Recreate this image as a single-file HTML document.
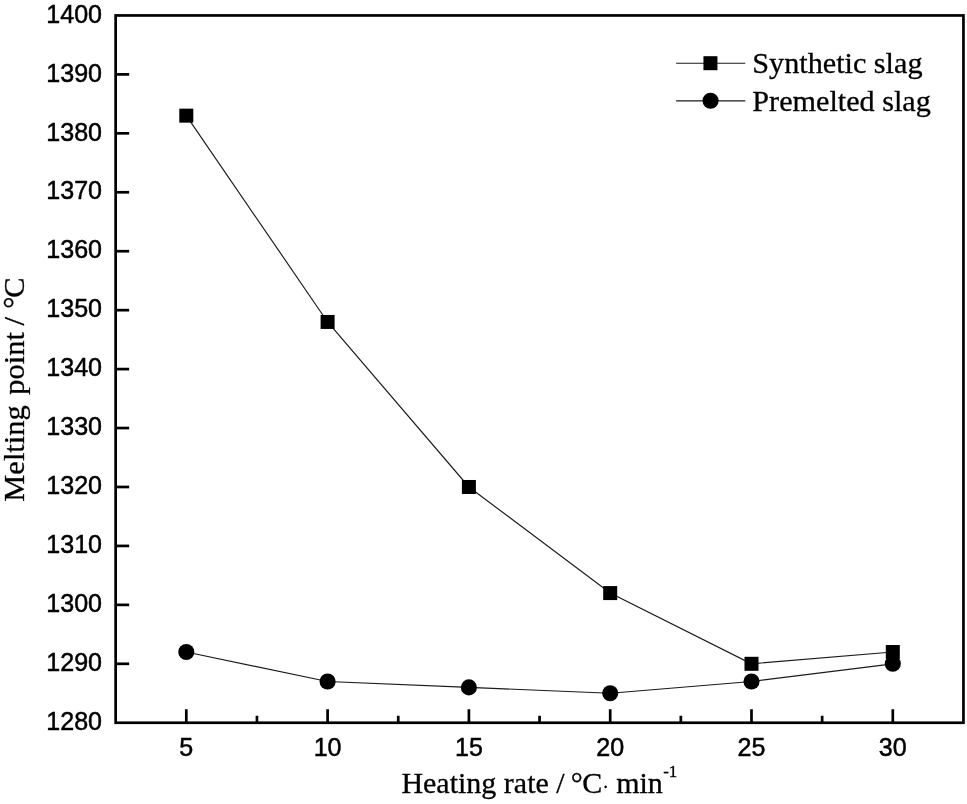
<!DOCTYPE html>
<html><head><meta charset="utf-8"><title>Melting point vs heating rate</title>
<style>
html,body{margin:0;padding:0;background:#fff;}
body{width:967px;height:804px;overflow:hidden;}
svg{display:block;}
.tk{font-family:"Liberation Sans",Arial,sans-serif;font-size:26.5px;fill:#000;stroke:#000;stroke-width:0.5px;}
.lb{font-family:"Liberation Serif","Times New Roman",serif;font-size:30px;fill:#000;stroke:#000;stroke-width:0.3px;}
</style></head><body>
<svg width="967" height="804" viewBox="0 0 967 804">
<rect x="0" y="0" width="967" height="804" fill="#fff"/>
<rect x="115.65" y="15.45" width="847.8000000000001" height="707.3" fill="none" stroke="#000" stroke-width="2.7"/>
<line x1="115.65" y1="663.81" x2="129.15" y2="663.81" stroke="#000" stroke-width="2.7"/>
<line x1="115.65" y1="604.87" x2="129.15" y2="604.87" stroke="#000" stroke-width="2.7"/>
<line x1="115.65" y1="545.92" x2="129.15" y2="545.92" stroke="#000" stroke-width="2.7"/>
<line x1="115.65" y1="486.98" x2="129.15" y2="486.98" stroke="#000" stroke-width="2.7"/>
<line x1="115.65" y1="428.04" x2="129.15" y2="428.04" stroke="#000" stroke-width="2.7"/>
<line x1="115.65" y1="369.10" x2="129.15" y2="369.10" stroke="#000" stroke-width="2.7"/>
<line x1="115.65" y1="310.16" x2="129.15" y2="310.16" stroke="#000" stroke-width="2.7"/>
<line x1="115.65" y1="251.22" x2="129.15" y2="251.22" stroke="#000" stroke-width="2.7"/>
<line x1="115.65" y1="192.27" x2="129.15" y2="192.27" stroke="#000" stroke-width="2.7"/>
<line x1="115.65" y1="133.33" x2="129.15" y2="133.33" stroke="#000" stroke-width="2.7"/>
<line x1="115.65" y1="74.39" x2="129.15" y2="74.39" stroke="#000" stroke-width="2.7"/>
<text transform="translate(102.05,729.95) scale(0.947,1)" text-anchor="end" class="tk">1280</text>
<text transform="translate(102.05,671.01) scale(0.947,1)" text-anchor="end" class="tk">1290</text>
<text transform="translate(102.05,612.07) scale(0.947,1)" text-anchor="end" class="tk">1300</text>
<text transform="translate(102.05,553.12) scale(0.947,1)" text-anchor="end" class="tk">1310</text>
<text transform="translate(102.05,494.18) scale(0.947,1)" text-anchor="end" class="tk">1320</text>
<text transform="translate(102.05,435.24) scale(0.947,1)" text-anchor="end" class="tk">1330</text>
<text transform="translate(102.05,376.30) scale(0.947,1)" text-anchor="end" class="tk">1340</text>
<text transform="translate(102.05,317.36) scale(0.947,1)" text-anchor="end" class="tk">1350</text>
<text transform="translate(102.05,258.42) scale(0.947,1)" text-anchor="end" class="tk">1360</text>
<text transform="translate(102.05,199.47) scale(0.947,1)" text-anchor="end" class="tk">1370</text>
<text transform="translate(102.05,140.53) scale(0.947,1)" text-anchor="end" class="tk">1380</text>
<text transform="translate(102.05,81.59) scale(0.947,1)" text-anchor="end" class="tk">1390</text>
<text transform="translate(102.05,22.65) scale(0.947,1)" text-anchor="end" class="tk">1400</text>
<line x1="186.30" y1="722.75" x2="186.30" y2="709.25" stroke="#000" stroke-width="2.7"/>
<text transform="translate(186.30,755.50) scale(0.947,1)" text-anchor="middle" class="tk">5</text>
<line x1="327.60" y1="722.75" x2="327.60" y2="709.25" stroke="#000" stroke-width="2.7"/>
<text transform="translate(327.60,755.50) scale(0.947,1)" text-anchor="middle" class="tk">10</text>
<line x1="468.90" y1="722.75" x2="468.90" y2="709.25" stroke="#000" stroke-width="2.7"/>
<text transform="translate(468.90,755.50) scale(0.947,1)" text-anchor="middle" class="tk">15</text>
<line x1="610.20" y1="722.75" x2="610.20" y2="709.25" stroke="#000" stroke-width="2.7"/>
<text transform="translate(610.20,755.50) scale(0.947,1)" text-anchor="middle" class="tk">20</text>
<line x1="751.50" y1="722.75" x2="751.50" y2="709.25" stroke="#000" stroke-width="2.7"/>
<text transform="translate(751.50,755.50) scale(0.947,1)" text-anchor="middle" class="tk">25</text>
<line x1="892.80" y1="722.75" x2="892.80" y2="709.25" stroke="#000" stroke-width="2.7"/>
<text transform="translate(892.80,755.50) scale(0.947,1)" text-anchor="middle" class="tk">30</text>
<line x1="256.95" y1="722.75" x2="256.95" y2="715.75" stroke="#000" stroke-width="2.7"/>
<line x1="398.25" y1="722.75" x2="398.25" y2="715.75" stroke="#000" stroke-width="2.7"/>
<line x1="539.55" y1="722.75" x2="539.55" y2="715.75" stroke="#000" stroke-width="2.7"/>
<line x1="680.85" y1="722.75" x2="680.85" y2="715.75" stroke="#000" stroke-width="2.7"/>
<line x1="822.15" y1="722.75" x2="822.15" y2="715.75" stroke="#000" stroke-width="2.7"/>
<polyline points="186.30,115.65 327.60,321.95 468.90,486.98 610.20,593.08 751.50,663.81 892.80,652.02" fill="none" stroke="#1a1a1a" stroke-width="1.15"/>
<polyline points="186.30,652.02 327.60,681.49 468.90,687.38 610.20,693.28 751.50,681.49 892.80,663.81" fill="none" stroke="#1a1a1a" stroke-width="1.15"/>
<rect x="179.30" y="108.65" width="14" height="14" fill="#000"/>
<rect x="320.60" y="314.95" width="14" height="14" fill="#000"/>
<rect x="461.90" y="479.98" width="14" height="14" fill="#000"/>
<rect x="603.20" y="586.08" width="14" height="14" fill="#000"/>
<rect x="744.50" y="656.81" width="14" height="14" fill="#000"/>
<rect x="885.80" y="645.02" width="14" height="14" fill="#000"/>
<circle cx="186.30" cy="652.02" r="8.05" fill="#000"/>
<circle cx="327.60" cy="681.49" r="8.05" fill="#000"/>
<circle cx="468.90" cy="687.38" r="8.05" fill="#000"/>
<circle cx="610.20" cy="693.28" r="8.05" fill="#000"/>
<circle cx="751.50" cy="681.49" r="8.05" fill="#000"/>
<circle cx="892.80" cy="663.81" r="8.05" fill="#000"/>
<line x1="676.1" y1="63.2" x2="745.3" y2="63.2" stroke="#1a1a1a" stroke-width="1.15"/>
<rect x="703.45" y="56.2" width="14" height="14" fill="#000"/>
<line x1="676.1" y1="100.8" x2="745.3" y2="100.8" stroke="#1a1a1a" stroke-width="1.15"/>
<circle cx="710.55" cy="100.8" r="8.05" fill="#000"/>
<text x="752.3" y="73.3" class="lb" style="font-size:30.2px">Synthetic slag</text>
<text x="752.3" y="110.6" class="lb" style="font-size:30.2px">Premelted slag</text>
<text x="401.4" y="793.2" class="lb">Heating rate / <tspan dx="-1.5">°</tspan><tspan dx="-0.3">C</tspan><tspan font-size="19" dx="0">·</tspan><tspan dx="0"> min</tspan><tspan dy="-16.3" dx="0.3" font-size="17">-1</tspan></text>
<text transform="translate(24.3,453.5) rotate(-90) scale(1.015,1)" text-anchor="middle" class="lb">Melting</text>
<text transform="translate(24.3,363.45) rotate(-90) scale(1.015,1)" text-anchor="middle" class="lb">point</text>
<text transform="translate(24.3,321.35) rotate(-90) scale(1.015,1)" text-anchor="middle" class="lb">/</text>
<text transform="translate(24.3,302.6) rotate(-90) scale(1.015,1)" text-anchor="middle" class="lb">°</text>
<text transform="translate(24.3,287.65) rotate(-90) scale(1.015,1)" text-anchor="middle" class="lb">C</text>
</svg>
</body></html>
